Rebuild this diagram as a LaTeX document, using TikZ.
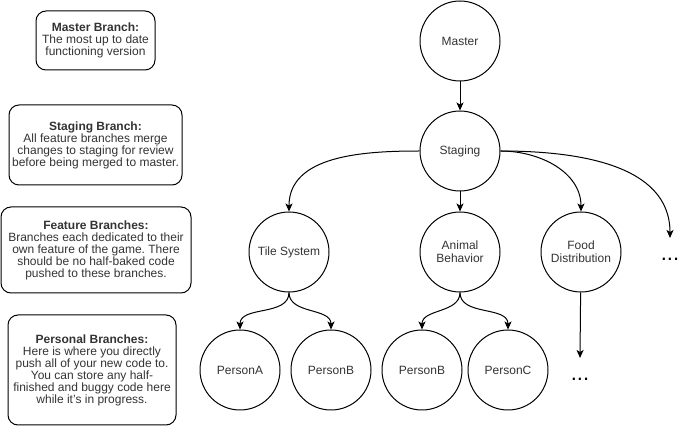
\documentclass[tikz,border=0pt]{standalone}
\usepackage{fontspec}
\setmainfont{Liberation Sans}
\frenchspacing
\usetikzlibrary{arrows.meta}
\usetikzlibrary{positioning}

\begin{document}
\begin{tikzpicture}[x=1pt, y=-1pt,
    every node/.style={font=\fontsize{12}{12}\selectfont, text=black!80},
    branch/.style={draw, circle, line width=1pt, minimum size=80pt,
      inner sep=0pt, align=center, font=\fontsize{12}{13}\selectfont},
    note/.style={draw, line width=1pt, rounded corners=10pt,
      align=center, inner sep=0pt},
    arr/.style={line width=1pt, -{Stealth[length=8pt, width=7pt, inset=2pt]}},
    more/.style={font=\fontsize{22}{22}\selectfont, text=black, inner sep=0pt}
  ]
  \useasboundingbox (0,0) rectangle (691,427);

  % notes on the left
  \node[note, minimum width=119pt, minimum height=59pt] (mnote) at (95.5,40.5)
    {\textbf{Master Branch:}\\The most up to date\\functioning version};
  \node[note, minimum width=173pt, minimum height=80pt] (snote) at (95.5,145)
    {\textbf{Staging Branch:}\\All feature branches merge\\changes to staging for review\\before being merged to master.};
  \node[note, minimum width=190pt, minimum height=86pt] (fnote) at (96,250)
    {\textbf{Feature Branches:}\\Branches each dedicated to their\\own feature of the game. There\\should be no half-baked code\\pushed to these branches.};
  \node[note, minimum width=168pt, minimum height=110pt] (pnote) at (92,370)
    {\textbf{Personal Branches:}\\Here is where you directly\\push all of your new code to.\\You can store any half-\\finished and buggy code here\\while it's in progress.};

  % branch tree
  \node[branch] (master) at (460,41) {Master};
  \node[branch, below=29pt of master] (staging) {Staging};
  \node[branch, below=20pt of staging] (animal) {Animal\\Behavior};
  \node[branch, left=90pt of animal] (tile) {Tile System};
  \node[branch, right=40pt of animal] (food) {Food\\Distribution};

  \node[branch] (personA) at (240,370) {PersonA};
  \node[branch, right=10pt of personA] (personB) {PersonB};
  \node[branch, right=10pt of personB] (personB2) {PersonB};
  \node[branch, right=5pt of personB2] (personC) {PersonC};

  \coordinate (more1_in) at (670,238);
  \coordinate (more2_in) at (580,358);
  \node[more] (more1) at (670,259) {...};
  \node[more] (more2) at (580,379) {...};

  \draw[arr] (master) -- (staging);
  \draw[arr] (staging.west) to[out=180,in=90] (tile.north);
  \draw[arr] (staging) -- (animal);
  \draw[arr] (staging.east) to[out=0,in=90] (food.north);
  \draw[arr] (staging.east) to[out=0,in=90] (more1_in);
  \draw[arr] (tile.south) to[out=-90,in=90] (personA.north);
  \draw[arr] (tile.south) to[out=-90,in=90] (personB.north);
  \draw[arr] (animal.south) to[out=-90,in=90] (personB2.north);
  \draw[arr] (animal.south) to[out=-90,in=90] (personC.north);
  \draw[arr] (food) -- (more2_in);
\end{tikzpicture}
\end{document}
